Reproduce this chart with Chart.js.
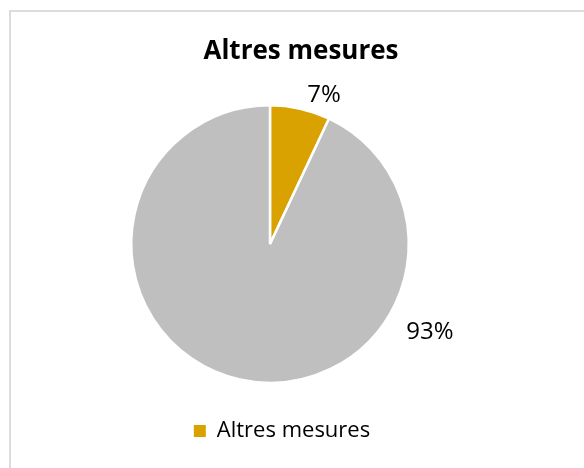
<!DOCTYPE html>
<html>
<head>
<meta charset="utf-8">
<title>Altres mesures</title>
<script src="https://cdn.jsdelivr.net/npm/chart.js@4.4.1/dist/chart.umd.min.js"></script>
<style>
	html, body { margin: 0; padding: 0; background: #fff; overflow: hidden; }
	#wrap { position: relative; width: 584px; height: 468px; }
	#frame { position: absolute; left: 9px; top: 10px; width: 600px; height: 480px; border: 2px solid #dcdcdc; box-sizing: border-box; }
	#chart { position: absolute; left: 0; top: 0; }
</style>
</head>
<body>
<div id="wrap">
	<div id="frame"></div>
	<canvas id="chart" width="584" height="468"></canvas>
</div>
<script>
'use strict';
// DATA
var categories = ['Altres mesures', 'Resta'];
var values = [7, 93];
var valueLabels = ['7%', '93%'];
var sliceColors = ['#DAA200', '#BFBFBF'];

// where each percentage label sits: fraction along its slice, distance past the rim
var labelPlace = [[0.79, 20], [0.28, 44]];

var font = '"Open Sans", Lato, sans-serif';

// nudge title / legend sideways after layout (pie sits left of the frame centre)
var nudge = {
	id: 'nudge',
	afterLayout: function(chart) {
		var t = chart.titleBlock, l = chart.legend;
		if (t) { t.left += 31; t.right += 31; }
		if (l) { l.left += 12; l.right += 12; }
	}
};

// percentage labels outside the pie
var outLabels = {
	id: 'outLabels',
	afterDatasetsDraw: function(chart) {
		var ctx = chart.ctx;
		var meta = chart.getDatasetMeta(0);
		ctx.save();
		ctx.fillStyle = '#000';
		ctx.font = '24px ' + font;
		ctx.textAlign = 'center';
		ctx.textBaseline = 'middle';
		meta.data.forEach(function(arc, i) {
			var p = arc.getProps(['x', 'y', 'startAngle', 'endAngle', 'outerRadius'], true);
			var a = p.startAngle + labelPlace[i][0] * (p.endAngle - p.startAngle);
			var r = p.outerRadius + labelPlace[i][1];
			ctx.fillText(valueLabels[i], p.x + Math.cos(a) * r, p.y + Math.sin(a) * r);
		});
		ctx.restore();
	}
};

var ctx = document.getElementById('chart').getContext('2d');
var myPie = new Chart(ctx, {
	type: 'pie',
	data: {
		labels: categories,
		datasets: [{
			data: values,
			backgroundColor: sliceColors,
			borderColor: '#ffffff',
			borderWidth: 2.5
		}]
	},
	options: {
		responsive: false,
		animation: false,
		layout: {
			padding: { top: 10, left: 130, right: 174, bottom: 16 }
		},
		plugins: {
			title: {
				display: true,
				text: 'Altres mesures',
				color: '#000',
				font: { family: font, size: 26, weight: 'bold' },
				padding: { top: 26, bottom: 11 }
			},
			legend: {
				position: 'bottom',
				labels: {
					color: '#000',
					font: { family: font, size: 22 },
					boxWidth: 12,
					boxHeight: 12,
					padding: 10,
					generateLabels: function(chart) {
						var items = Chart.overrides.pie.plugins.legend.labels.generateLabels(chart);
						return items.filter(function(item) { return item.index === 0; }).map(function(item) {
							item.lineWidth = 0;
							item.strokeStyle = item.fillStyle;
							return item;
						});
					}
				}
			},
			tooltip: { enabled: false }
		}
	},
	plugins: [nudge, outLabels]
});
</script>
</body>
</html>
